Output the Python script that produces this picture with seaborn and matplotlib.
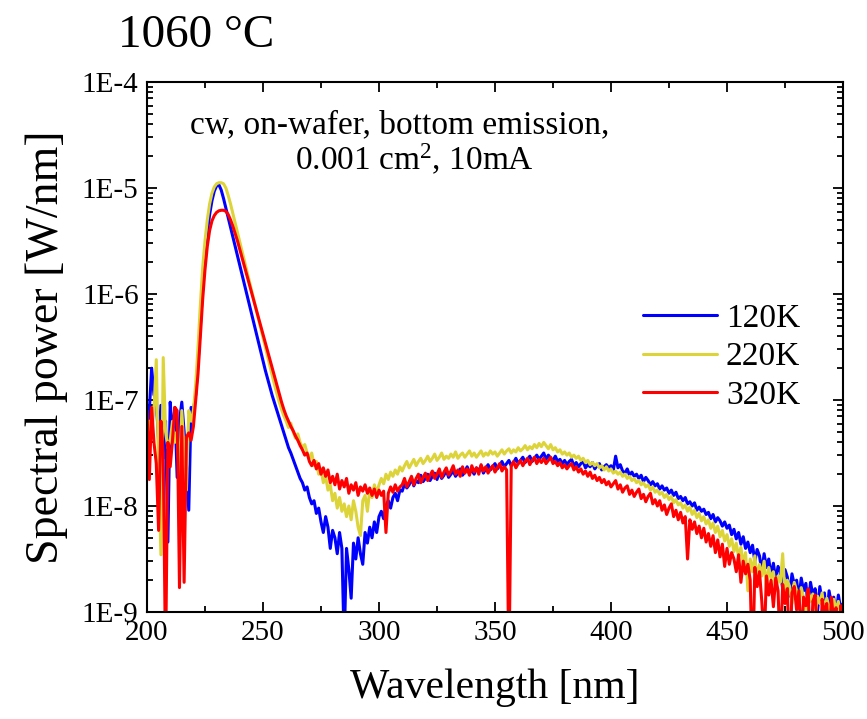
import numpy as np
import pandas as pd
import matplotlib
matplotlib.use("Agg")
import matplotlib.pyplot as plt
from matplotlib.ticker import FixedLocator, MultipleLocator, NullFormatter, LogLocator
import seaborn as sns

# Wavelength grid [nm] and log10 of spectral power [W/nm] for each temperature
wavelength = list(range(200, 501))

log_power_120K = [
    -7.30, -7.10, -6.70, -6.95, -7.00, -7.40, -7.05, -7.55, -7.20, -8.34,
    -7.02, -7.35, -7.07, -7.73, -7.20, -7.02, -7.30, -7.60, -8.04, -7.07,
    -7.10, -6.95, -6.65, -6.30, -5.95, -5.65, -5.42, -5.25, -5.12, -5.03,
    -4.98, -4.97, -5.02, -5.10, -5.19, -5.28, -5.37, -5.46, -5.55, -5.64,
    -5.73, -5.82, -5.91, -6.00, -6.09, -6.18, -6.27, -6.36, -6.45, -6.54,
    -6.63, -6.72, -6.80, -6.88, -6.96, -7.03, -7.10, -7.17, -7.24, -7.31,
    -7.38, -7.45, -7.50, -7.56, -7.62, -7.68, -7.74, -7.78, -7.85, -7.82,
    -7.92, -7.98, -7.95, -8.07, -8.02, -8.15, -8.25, -8.10, -8.20, -8.40,
    -8.23, -8.30, -8.45, -8.25, -8.40, -9.30, -8.40, -8.60, -8.87, -8.35,
    -8.50, -8.30, -8.45, -8.55, -8.25, -8.35, -8.20, -8.30, -8.15, -8.25,
    -8.10, -8.05, -8.12, -8.00, -7.95, -8.02, -7.92, -7.88, -7.95, -7.85,
    -7.86, -7.79, -7.83, -7.80, -7.74, -7.81, -7.76, -7.78, -7.71, -7.77,
    -7.74, -7.70, -7.76, -7.72, -7.69, -7.75, -7.68, -7.74, -7.71, -7.66,
    -7.73, -7.70, -7.67, -7.72, -7.69, -7.65, -7.71, -7.68, -7.63, -7.69,
    -7.66, -7.70, -7.64, -7.67, -7.62, -7.69, -7.65, -7.61, -7.66, -7.63,
    -7.60, -7.65, -7.62, -7.58, -7.63, -7.60, -7.57, -7.62, -7.59, -7.55,
    -7.60, -7.57, -7.54, -7.59, -7.56, -7.53, -7.58, -7.55, -7.52, -7.56,
    -7.53, -7.50, -7.56, -7.52, -7.55, -7.57, -7.53, -7.58, -7.56, -7.60,
    -7.57, -7.61, -7.58, -7.56, -7.62, -7.59, -7.63, -7.60, -7.58, -7.64,
    -7.61, -7.63, -7.59, -7.65, -7.62, -7.60, -7.66, -7.63, -7.61, -7.64,
    -7.62, -7.66, -7.53, -7.64, -7.61, -7.67, -7.69, -7.65, -7.71, -7.68,
    -7.72, -7.70, -7.74, -7.71, -7.77, -7.73, -7.76, -7.80, -7.77, -7.81,
    -7.79, -7.84, -7.81, -7.85, -7.83, -7.88, -7.85, -7.90, -7.87, -7.93,
    -7.91, -7.95, -7.92, -7.98, -7.96, -8.00, -7.97, -8.04, -8.01, -8.05,
    -8.03, -8.08, -8.06, -8.12, -8.08, -8.15, -8.11, -8.14, -8.19, -8.15,
    -8.21, -8.18, -8.27, -8.22, -8.31, -8.25, -8.36, -8.29, -8.40, -8.34,
    -8.44, -8.37, -8.52, -8.41, -8.47, -8.62, -8.45, -8.58, -8.50, -8.66,
    -8.54, -8.70, -8.57, -8.62, -8.78, -8.60, -8.67, -8.85, -8.64, -8.74,
    -8.70, -8.88, -8.68, -8.80, -8.73, -8.95, -8.72, -8.84, -8.78, -9.00,
    -8.76, -8.90, -8.82, -9.08, -8.80, -8.93, -8.86, -9.05, -8.84, -8.97,
    -8.92,
]

log_power_220K = [
    -7.40, -7.20, -7.30, -7.10, -6.62, -7.63, -8.46, -6.60, -7.30, -7.45,
    -7.38, -7.20, -7.40, -7.30, -7.75, -7.10, -7.50, -7.85, -7.10, -7.20,
    -7.10, -6.85, -6.50, -6.10, -5.75, -5.50, -5.30, -5.15, -5.05, -4.99,
    -4.96, -4.95, -4.95, -4.96, -5.00, -5.07, -5.15, -5.24, -5.33, -5.42,
    -5.51, -5.60, -5.69, -5.78, -5.87, -5.96, -6.05, -6.14, -6.23, -6.32,
    -6.41, -6.50, -6.59, -6.68, -6.77, -6.86, -6.94, -7.02, -7.09, -7.15,
    -7.20, -7.26, -7.22, -7.30, -7.36, -7.32, -7.40, -7.45, -7.42, -7.50,
    -7.55, -7.50, -7.62, -7.58, -7.70, -7.65, -7.78, -7.72, -7.85, -7.80,
    -7.95, -7.88, -8.02, -7.92, -8.05, -7.98, -8.10, -8.00, -8.13, -7.95,
    -8.05, -8.20, -8.28, -7.95, -7.90, -8.05, -7.85, -7.92, -7.80, -7.88,
    -7.80, -7.74, -7.79, -7.70, -7.75, -7.68, -7.72, -7.66, -7.70, -7.63,
    -7.67, -7.62, -7.58, -7.64, -7.60, -7.56, -7.62, -7.58, -7.55, -7.60,
    -7.57, -7.53, -7.58, -7.55, -7.51, -7.57, -7.54, -7.50, -7.56, -7.53,
    -7.55, -7.51, -7.54, -7.49, -7.55, -7.52, -7.50, -7.54, -7.51, -7.48,
    -7.53, -7.50, -7.54, -7.51, -7.48, -7.53, -7.50, -7.52, -7.48, -7.51,
    -7.49, -7.53, -7.50, -7.47, -7.51, -7.48, -7.46, -7.50, -7.47, -7.49,
    -7.45, -7.48, -7.46, -7.43, -7.47, -7.44, -7.46, -7.42, -7.45, -7.41,
    -7.44, -7.40, -7.43, -7.46, -7.42, -7.47, -7.45, -7.49, -7.47, -7.51,
    -7.49, -7.52, -7.50, -7.54, -7.52, -7.55, -7.53, -7.57, -7.55, -7.59,
    -7.57, -7.61, -7.59, -7.62, -7.60, -7.64, -7.62, -7.66, -7.63, -7.67,
    -7.65, -7.69, -7.67, -7.70, -7.68, -7.72, -7.70, -7.74, -7.72, -7.76,
    -7.74, -7.78, -7.76, -7.80, -7.78, -7.82, -7.80, -7.85, -7.82, -7.87,
    -7.85, -7.89, -7.87, -7.92, -7.89, -7.94, -7.91, -7.97, -7.94, -7.99,
    -7.97, -8.02, -7.99, -8.05, -8.01, -8.08, -8.04, -8.11, -8.07, -8.14,
    -8.10, -8.17, -8.13, -8.21, -8.16, -8.25, -8.19, -8.29, -8.23, -8.33,
    -8.27, -8.38, -8.31, -8.43, -8.35, -8.48, -8.39, -8.55, -8.44, -8.80,
    -8.50, -8.62, -8.47, -8.70, -8.55, -8.66, -8.52, -8.78, -8.58, -8.68,
    -8.62, -8.80, -8.66, -8.72, -8.45, -8.85, -8.70, -8.76, -8.92, -8.72,
    -8.80, -8.95, -8.77, -8.86, -9.02, -8.80, -8.90, -8.83, -9.05, -8.85,
    -8.92, -8.82, -9.00, -8.87, -8.95, -9.06, -8.88, -8.98, -8.90, -9.10,
    -8.94,
]

log_power_320K = [
    -7.10, -7.75, -7.07, -7.40, -7.60, -8.23, -7.20, -7.50, -9.50, -7.40,
    -7.63, -7.38, -7.07, -7.10, -8.77, -7.25, -8.72, -7.35, -7.31, -7.38,
    -7.25, -7.00, -6.75, -6.40, -6.05, -5.77, -5.55, -5.40, -5.31, -5.26,
    -5.23, -5.215, -5.21, -5.21, -5.22, -5.25, -5.30, -5.36, -5.43, -5.50,
    -5.58, -5.66, -5.74, -5.82, -5.90, -5.98, -6.06, -6.14, -6.22, -6.30,
    -6.38, -6.46, -6.54, -6.62, -6.70, -6.78, -6.86, -6.94, -7.02, -7.09,
    -7.15, -7.20, -7.25, -7.29, -7.34, -7.38, -7.43, -7.47, -7.52, -7.50,
    -7.58, -7.62, -7.57, -7.65, -7.60, -7.70, -7.64, -7.72, -7.66, -7.78,
    -7.72, -7.80, -7.70, -7.84, -7.76, -7.82, -7.74, -7.88, -7.80, -7.85,
    -7.78, -7.90, -7.82, -7.86, -7.80, -7.88, -7.83, -7.90, -7.84, -7.92,
    -7.85, -7.90, -7.86, -8.25, -7.88, -7.82, -7.87, -7.80, -7.86, -7.82,
    -7.80, -7.74, -7.82, -7.77, -7.72, -7.80, -7.74, -7.70, -7.78, -7.73,
    -7.69, -7.76, -7.71, -7.67, -7.74, -7.70, -7.65, -7.73, -7.68, -7.64,
    -7.71, -7.67, -7.62, -7.70, -7.66, -7.72, -7.63, -7.69, -7.65, -7.71,
    -7.62, -7.68, -7.64, -7.70, -7.61, -7.67, -7.63, -7.69, -7.65, -7.62,
    -7.68, -7.64, -7.60, -7.67, -7.63, -7.66, -9.60, -7.62, -7.58, -7.64,
    -7.60, -7.57, -7.62, -7.58, -7.55, -7.61, -7.57, -7.54, -7.60, -7.56,
    -7.59, -7.55, -7.60, -7.57, -7.54, -7.60, -7.58, -7.62, -7.59, -7.64,
    -7.61, -7.65, -7.62, -7.60, -7.66, -7.63, -7.68, -7.65, -7.70, -7.67,
    -7.72, -7.68, -7.74, -7.71, -7.76, -7.73, -7.78, -7.75, -7.80, -7.77,
    -7.82, -7.79, -7.76, -7.84, -7.80, -7.87, -7.83, -7.81, -7.89, -7.85,
    -7.91, -7.87, -7.84, -7.93, -7.89, -7.96, -7.91, -7.88, -7.98, -7.94,
    -8.00, -7.95, -8.04, -7.99, -8.08, -8.02, -7.98, -8.10, -8.04, -8.13,
    -8.06, -8.16, -8.10, -8.50, -8.13, -8.22, -8.15, -8.26, -8.19, -8.30,
    -8.21, -8.34, -8.26, -8.38, -8.28, -8.44, -8.32, -8.48, -8.36, -8.57,
    -8.40, -8.55, -8.44, -8.50, -8.62, -8.46, -8.72, -8.52, -8.64, -8.55,
    -8.70, -9.60, -8.58, -8.76, -8.62, -8.90, -9.30, -8.66, -8.84, -8.70,
    -8.95, -8.68, -8.80, -9.40, -8.74, -8.92, -8.78, -9.50, -8.82, -8.76,
    -8.98, -8.80, -9.30, -8.86, -8.94, -8.78, -9.50, -8.90, -8.84, -9.20,
    -9.60, -8.88, -9.02, -8.92, -9.40, -8.86, -9.10, -8.96, -9.60, -8.94,
    -9.05,
]

temperatures = ["120K", "220K", "320K"]
line_colors = ["#0000FF", "#DDD43A", "#FF0000"]

y_ticks = [1e-9, 1e-8, 1e-7, 1e-6, 1e-5, 1e-4]
y_tick_labels = ["1E-9", "1E-8", "1E-7", "1E-6", "1E-5", "1E-4"]
x_ticks = [200, 250, 300, 350, 400, 450, 500]

# Long-form table for seaborn
frames = []
for temp, logs in zip(temperatures, [log_power_120K, log_power_220K, log_power_320K]):
    frames.append(pd.DataFrame({
        "wavelength": wavelength,
        "power": 10.0 ** np.asarray(logs),
        "T": temp,
    }))
df = pd.concat(frames, ignore_index=True)

sns.set_style("ticks")
plt.rcParams["font.family"] = ["Liberation Serif", "DejaVu Serif"]
plt.rcParams["mathtext.fontset"] = "custom"
plt.rcParams["mathtext.rm"] = "Liberation Serif"
plt.rcParams["mathtext.it"] = "Liberation Serif:italic"
for key in ["text.color", "axes.labelcolor", "xtick.color", "ytick.color", "axes.edgecolor"]:
    plt.rcParams[key] = "black"

fig = plt.figure(figsize=(8.67, 7.19), dpi=100)
ax = fig.add_axes([147 / 867, 1 - 612 / 719, 696 / 867, 530 / 719])

sns.lineplot(data=df, x="wavelength", y="power", hue="T",
             palette=dict(zip(temperatures, line_colors)),
             estimator=None, sort=False, linewidth=2.2, ax=ax, legend=False)

ax.set_yscale("log")
ax.set_xlim(200, 500)
ax.set_ylim(1e-9, 1e-4)

ax.yaxis.set_major_locator(FixedLocator(y_ticks))
ax.set_yticklabels(y_tick_labels)
ax.yaxis.set_minor_locator(LogLocator(base=10, subs=np.arange(2, 10)))
ax.yaxis.set_minor_formatter(NullFormatter())
ax.xaxis.set_major_locator(FixedLocator(x_ticks))
ax.set_xticklabels([str(v) for v in x_ticks])
ax.xaxis.set_minor_locator(MultipleLocator(25))

ax.tick_params(which="both", direction="in", top=True, right=True,
               width=1.3, colors="black", labelsize=21, pad=6)
ax.tick_params(which="major", length=7)
ax.tick_params(which="minor", length=4)
for side in ax.spines.values():
    side.set_linewidth(1.5)
    side.set_color("black")

ax.set_xlabel("Wavelength [nm]", fontsize=30, labelpad=16)
ax.set_ylabel("Spectral power [W/nm]", fontsize=33, labelpad=10)

# Measurement conditions
ax.text(0.3635, 0.919, "cw, on-wafer, bottom emission,", transform=ax.transAxes,
        ha="center", va="center", fontsize=24)
ax.text(0.3836, 0.853, "0.001 cm$^2$, 10mA", transform=ax.transAxes,
        ha="center", va="center", fontsize=24)

# Legend
handles = [plt.Line2D([], [], color=c, lw=2.2) for c in line_colors]
ax.legend(handles, temperatures, loc="center left", bbox_to_anchor=(0.712, 0.481),
          frameon=False, fontsize=24, handlelength=2.22, handletextpad=0.28,
          labelspacing=0.24, borderpad=0, borderaxespad=0)

fig.text(118 / 867, 1 - 47 / 719, "1060 °C", fontsize=34, ha="left", va="baseline")

fig.savefig("out.png", dpi=100)
